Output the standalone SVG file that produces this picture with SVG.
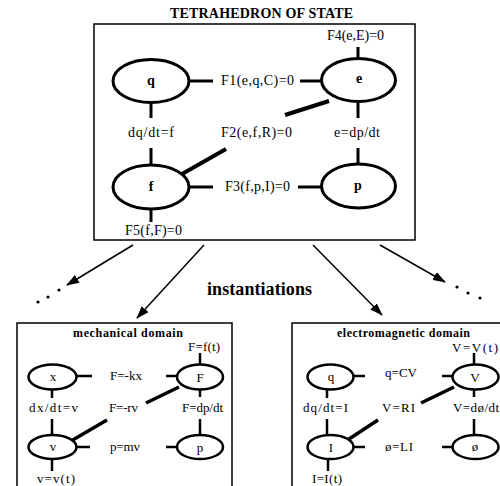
<svg xmlns="http://www.w3.org/2000/svg" width="500" height="486" viewBox="0 0 500 486">
<style>
text{font-family:"Liberation Serif","Times New Roman",serif;fill:#000}
.t{font-size:14px}
.s{font-size:13px}
.b{font-weight:bold}
.n{font-size:14px;font-weight:bold;text-anchor:middle}
.m{font-size:13px;text-anchor:middle}
.el{fill:#fff;stroke:#000;stroke-width:3}
.el2{fill:#fff;stroke:#000;stroke-width:2.5}
.box{fill:none;stroke:#000;stroke-width:1.5}
.c{stroke:#000;stroke-width:3;fill:none}
.c2{stroke:#000;stroke-width:2.5;fill:none}
.k{stroke:#000;stroke-width:4;fill:none}
.k2{stroke:#000;stroke-width:3.5;fill:none}
.a{stroke:#000;stroke-width:1.5;fill:none;marker-end:url(#ah)}
</style>
<defs>
<marker id="ah" viewBox="0 0 13 9" refX="12" refY="4.5" markerWidth="13" markerHeight="9" markerUnits="userSpaceOnUse" orient="auto">
<path d="M0,0 L13,4.5 L0,9 Z" fill="#000"/>
</marker>
</defs>

<text class="b" x="170" y="18" font-size="14" textLength="183">TETRAHEDRON OF STATE</text>
<rect class="box" x="94" y="24" width="321" height="216"/>

<g id="connectors">
<!-- top -->
<line class="c" x1="189" y1="81" x2="213" y2="81"/>
<line class="c" x1="300" y1="81" x2="323" y2="81"/>
<line class="c" x1="358" y1="47" x2="358" y2="59"/>
<line class="k" x1="329" y1="101" x2="285" y2="115"/>
<line class="c" x1="151" y1="103" x2="151" y2="118"/>
<line class="c" x1="358" y1="101" x2="358" y2="118"/>
<line class="c" x1="151" y1="148" x2="151" y2="164"/>
<line class="c" x1="358" y1="148" x2="358" y2="164"/>
<line class="k" x1="226" y1="149" x2="182" y2="174"/>
<line class="c" x1="189" y1="187" x2="213" y2="187"/>
<line class="c" x1="298" y1="187" x2="323" y2="187"/>
<line class="c" x1="151" y1="209" x2="151" y2="222"/>
<!-- arrows -->
<line class="a" x1="133" y1="245" x2="67" y2="285"/>
<line class="a" x1="204" y1="245" x2="137" y2="318"/>
<line class="a" x1="313" y1="245" x2="382" y2="315"/>
<line class="a" x1="380" y1="245" x2="445" y2="282"/>
<!-- mechanical -->
<line class="c2" x1="77" y1="376" x2="92" y2="376"/>
<line class="c2" x1="166" y1="376" x2="178" y2="376"/>
<line class="c2" x1="200" y1="353" x2="200" y2="365"/>
<line class="c2" x1="52" y1="389" x2="52" y2="398"/>
<line class="c2" x1="200" y1="389" x2="200" y2="397"/>
<line class="k2" x1="179" y1="387" x2="146" y2="403"/>
<line class="c2" x1="52" y1="419" x2="52" y2="436"/>
<line class="c2" x1="200" y1="419" x2="200" y2="436"/>
<line class="k2" x1="107" y1="420" x2="71" y2="441"/>
<line class="c2" x1="77" y1="447" x2="90" y2="447"/>
<line class="c2" x1="166" y1="447" x2="178" y2="447"/>
<line class="c2" x1="52" y1="458" x2="52" y2="471"/>
<!-- electromagnetic -->
<line class="c2" x1="353" y1="376" x2="365" y2="376"/>
<line class="c2" x1="442" y1="376" x2="453" y2="376"/>
<line class="c2" x1="474" y1="353" x2="474" y2="365"/>
<line class="c2" x1="327" y1="389" x2="327" y2="398"/>
<line class="c2" x1="474" y1="389" x2="474" y2="397"/>
<line class="k2" x1="454" y1="387" x2="421" y2="403"/>
<line class="c2" x1="327" y1="419" x2="327" y2="436"/>
<line class="c2" x1="474" y1="419" x2="474" y2="436"/>
<line class="k2" x1="378" y1="420" x2="346" y2="441"/>
<line class="c2" x1="353" y1="447" x2="365" y2="447"/>
<line class="c2" x1="442" y1="447" x2="453" y2="447"/>
<line class="c2" x1="328" y1="458" x2="328" y2="471"/>
</g>

<g id="dots">
<circle cx="38" cy="302" r="1.6"/>
<circle cx="48" cy="297" r="1.6"/>
<circle cx="59" cy="290" r="1.6"/>
<circle cx="457" cy="287" r="1.6"/>
<circle cx="468" cy="293" r="1.6"/>
<circle cx="480" cy="298" r="1.6"/>
</g>

<text class="b" x="207" y="295" font-size="18" textLength="105">instantiations</text>

<g id="top-nodes">
<g id="q"><ellipse class="el" cx="151" cy="81" rx="38" ry="21.5"/><text class="n" x="151" y="85">q</text></g>
<g id="e"><ellipse class="el" cx="358.5" cy="80" rx="37" ry="21.5"/><text class="n" x="359" y="83">e</text></g>
<g id="f"><ellipse class="el" cx="151" cy="187" rx="38" ry="22"/><text class="n" x="151" y="191">f</text></g>
<g id="p"><ellipse class="el" cx="358.5" cy="186" rx="37" ry="22"/><text class="n" x="358" y="190">p</text></g>
</g>

<g id="top-labels">
<text class="t" x="221" y="85" textLength="73">F1(e,q,C)=0</text>
<text class="t" x="327" y="40" textLength="57">F4(e,E)=0</text>
<text class="t" x="128" y="137" textLength="46">dq/dt=f</text>
<text class="t" x="221" y="137" textLength="71">F2(e,f,R)=0</text>
<text class="t" x="334" y="137" textLength="46">e=dp/dt</text>
<text class="t" x="225" y="191" textLength="65">F3(f,p,I)=0</text>
<text class="t" x="125" y="235" textLength="57">F5(f,F)=0</text>
</g>

<g id="mechanical">
<rect class="box" x="17" y="323" width="215" height="170"/>
<text class="b" x="73" y="337" font-size="12" textLength="110">mechanical domain</text>
<g id="mx"><ellipse class="el2" cx="52.5" cy="377" rx="24" ry="12.5"/><text class="m" x="53" y="381">x</text></g>
<g id="mF"><ellipse class="el2" cx="200" cy="377" rx="23" ry="12.5"/><text class="m" x="200" y="382">F</text></g>
<g id="mv"><ellipse class="el2" cx="52.5" cy="447" rx="24" ry="12"/><text class="m" x="53" y="451">v</text></g>
<g id="mp"><ellipse class="el2" cx="200" cy="447" rx="23" ry="12"/><text class="m" x="200" y="452">p</text></g>
<text class="s" x="110" y="380" textLength="32">F=-kx</text>
<text class="s" x="188" y="351" textLength="32">F=f(t)</text>
<text class="s" x="29" y="412" textLength="49">dx/dt=v</text>
<text class="s" x="109" y="412" textLength="29">F=-rv</text>
<text class="s" x="182" y="412" textLength="41">F=dp/dt</text>
<text class="s" x="110" y="451" textLength="30">p=mv</text>
<text class="s" x="37" y="483" textLength="38">v=v(t)</text>
</g>

<g id="electromagnetic">
<rect class="box" x="292" y="323" width="215" height="170"/>
<text class="b" x="337" y="337" font-size="12" textLength="133">electromagnetic domain</text>
<g id="eq"><ellipse class="el2" cx="330.5" cy="377" rx="23" ry="12.5"/><text class="m" x="331" y="381">q</text></g>
<g id="eV"><ellipse class="el2" cx="475.5" cy="377" rx="23" ry="12.5"/><text class="m" x="475" y="382">V</text></g>
<g id="eI"><ellipse class="el2" cx="330.5" cy="447" rx="23" ry="12"/><text class="m" x="331" y="452">I</text></g>
<g id="ephi"><ellipse class="el2" cx="475.5" cy="447" rx="23" ry="12"/><text class="m" x="475" y="451">ø</text></g>
<text class="s" x="385" y="377" textLength="32">q=CV</text>
<text class="s" x="452" y="352" textLength="46">V=V(t)</text>
<text class="s" x="303" y="412" textLength="45">dq/dt=I</text>
<text class="s" x="382" y="412" textLength="33">V=RI</text>
<text class="s" x="453" y="412" textLength="46">V=dø/dt</text>
<text class="s" x="385" y="451" textLength="28">ø=LI</text>
<text class="s" x="312" y="483" textLength="30">I=I(t)</text>
</g>
</svg>
